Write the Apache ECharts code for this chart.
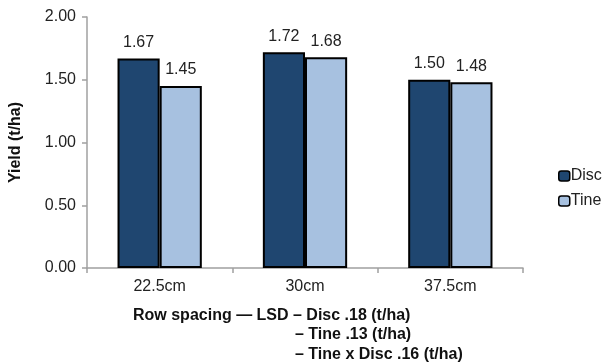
<!DOCTYPE html>
<html>
<head>
<meta charset="utf-8">
<script src="https://cdn.jsdelivr.net/npm/echarts@6/dist/echarts.min.js"></script>
<style>
  html, body { margin: 0; padding: 0; background: #fff; }
  #chart { width: 603px; height: 364px; }
</style>
</head>
<body>
<div id="chart"></div>
<script>
// Row spacing categories and yield per seeding system (t/ha)
const categories = ['22.5cm', '30cm', '37.5cm'];
const discYield = [1.67, 1.72, 1.50];
const tineYield = [1.45, 1.68, 1.48];
const yTicks = { min: 0, max: 2, interval: 0.5 };

const FONT = 'Liberation Sans, Arial, sans-serif';
const chart = echarts.init(document.getElementById('chart'), null, { renderer: 'canvas' });

const barLabel = {
  show: true,
  position: 'top',
  distance: 8,
  color: '#222',
  fontSize: 16,
  fontFamily: FONT,
  formatter: p => p.value.toFixed(2)
};

chart.setOption({
  animation: false,
  backgroundColor: '#fff',
  grid: { left: 84, right: 80, top: 17, bottom: 96, containLabel: false },
  legend: {
    orient: 'vertical',
    left: 553,
    top: 163,
    itemWidth: 11,
    itemHeight: 10,
    itemGap: 9,
    textStyle: { fontSize: 16, fontFamily: FONT, color: '#222', padding: [0, 0, 0, -4] },
    data: [
      { name: 'Disc', itemStyle: { borderColor: '#000', borderWidth: 1.5 } },
      { name: 'Tine', itemStyle: { borderColor: '#000', borderWidth: 1.5 } }
    ]
  },
  xAxis: {
    type: 'category',
    data: categories,
    axisLine: { lineStyle: { color: '#a0a0a0', width: 1.5 } },
    axisTick: { show: true, length: 5, lineStyle: { color: '#a0a0a0', width: 1.5 } },
    axisLabel: { color: '#222', fontSize: 16, fontFamily: FONT, margin: 11 }
  },
  yAxis: {
    type: 'value',
    min: yTicks.min,
    max: yTicks.max,
    interval: yTicks.interval,
    name: 'Yield (t/ha)',
    nameLocation: 'middle',
    nameGap: 63,
    nameTextStyle: { fontSize: 16, fontWeight: 'bold', fontFamily: FONT, color: '#111' },
    axisLine: { show: true, lineStyle: { color: '#a0a0a0', width: 1.5 } },
    axisTick: { show: true, length: 5, lineStyle: { color: '#a0a0a0', width: 1.5 } },
    splitLine: { show: false },
    axisLabel: { color: '#222', fontSize: 16, fontFamily: FONT, margin: 11, formatter: v => v.toFixed(2) }
  },
  series: [
    {
      name: 'Disc',
      type: 'bar',
      data: discYield,
      barGap: '0%',
      barCategoryGap: '42%',
      itemStyle: { color: '#1f4670', borderColor: '#000', borderWidth: 2 },
      label: barLabel
    },
    {
      name: 'Tine',
      type: 'bar',
      data: tineYield,
      itemStyle: { color: '#a7c1e0', borderColor: '#000', borderWidth: 2 },
      label: barLabel
    }
  ],
  graphic: [
    {
      type: 'text',
      left: 133,
      top: 308,
      style: {
        text: 'Row spacing — LSD – Disc .18 (t/ha)',
        font: 'bold 16px ' + FONT,
        fill: '#111'
      }
    },
    {
      type: 'text',
      left: 295,
      top: 327,
      style: {
        text: '– Tine .13 (t/ha)',
        font: 'bold 16px ' + FONT,
        fill: '#111'
      }
    },
    {
      type: 'text',
      left: 295,
      top: 347,
      style: {
        text: '– Tine x Disc .16 (t/ha)',
        font: 'bold 16px ' + FONT,
        fill: '#111'
      }
    }
  ]
});
</script>
</body>
</html>
